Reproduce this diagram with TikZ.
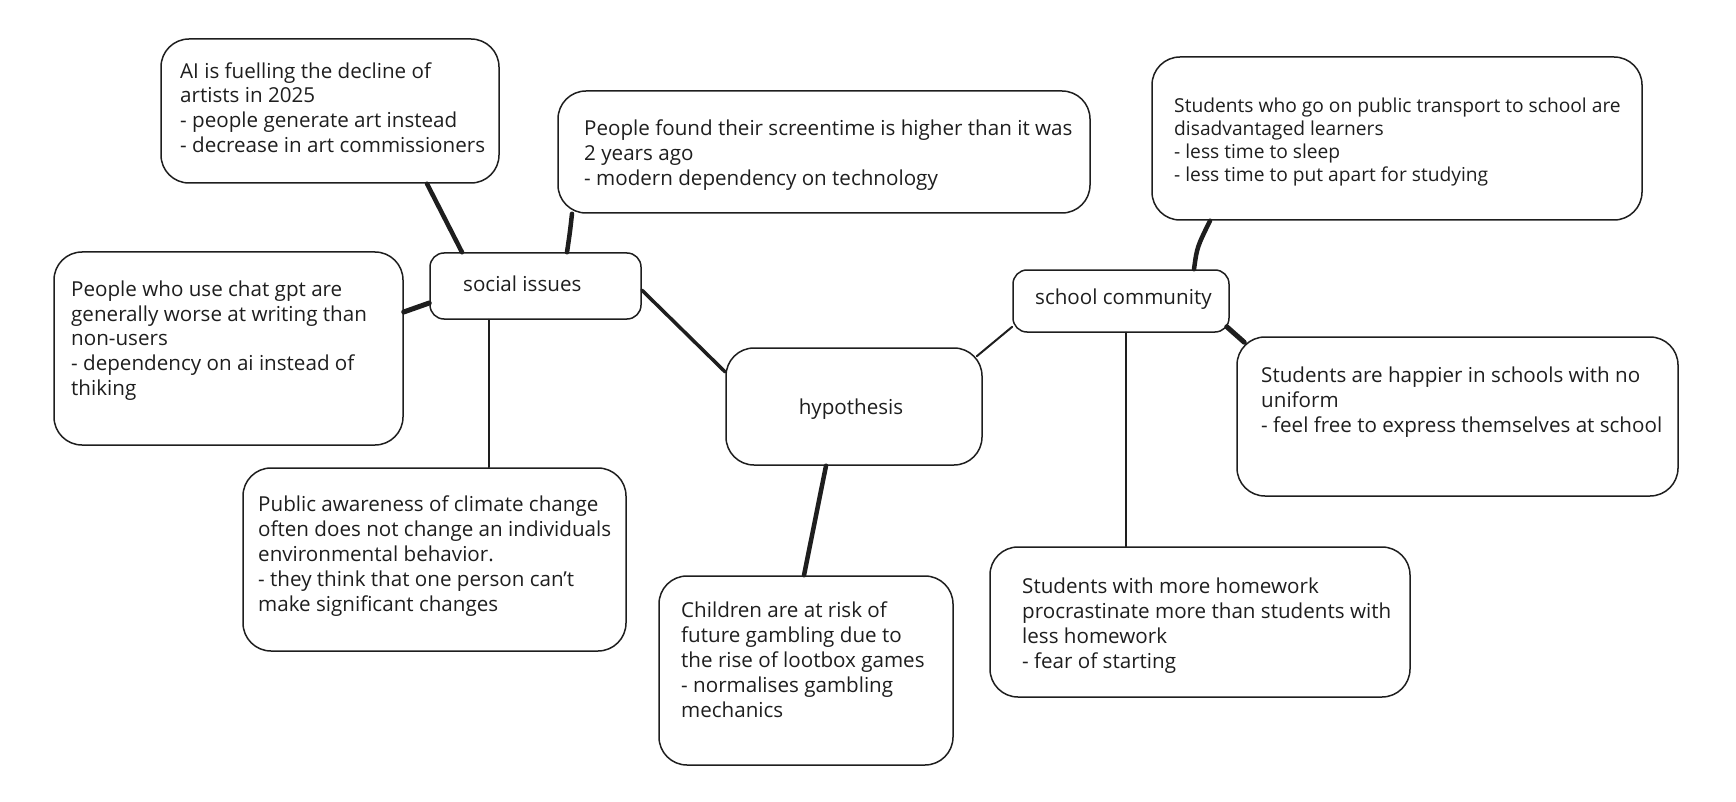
\documentclass[tikz,border=0pt]{standalone}
\usepackage{fontspec}
\setmainfont{Open Sans}
\usetikzlibrary{calc}
\definecolor{ink}{HTML}{1E1E1E}
\begin{document}
\begin{tikzpicture}[x=1pt,y=-1pt,
  box/.style={draw=ink, line width=1.5pt, rounded corners=28pt, inner sep=0pt, minimum width=#1},
  box/.default=10pt,
  txt/.style={inner sep=0pt, align=left, anchor=base west, font=\fontsize{20.6}{24.8}\selectfont, text=ink},
  stxt/.style={txt, font=\fontsize{19.2}{23}\selectfont},
  thinline/.style={draw=ink, line width=2pt, line cap=round},
  thickline/.style={draw=ink, line width=4.5pt, line cap=round}
]
\useasboundingbox (0,0) rectangle (1736,802);
% boxes
\node[box=338pt, minimum height=144pt] (ai) at (330,111) {};
\node[box=532pt, minimum height=122pt] (scr) at (824,152) {};
\node[box=490pt, minimum height=163pt] (trn) at (1397,138.5) {};
\node[box=211pt, minimum height=66pt, rounded corners=14pt] (soc) at (535.5,286) {};
\node[box=349pt, minimum height=193pt] (chat) at (228.5,348.5) {};
\node[box=383pt, minimum height=183pt] (clim) at (434.5,559.5) {};
\node[box=256pt, minimum height=117pt] (hyp) at (854,406.5) {};
\node[box=294pt, minimum height=189pt] (loot) at (806,670.5) {};
\node[box=216pt, minimum height=62pt, rounded corners=14pt] (sch) at (1121,301) {};
\node[box=441pt, minimum height=159pt] (uni) at (1457.5,416.5) {};
\node[box=420pt, minimum height=150pt] (hw) at (1200,622) {};
% texts (anchored at the baseline of the last line)
\node[txt] (aitxt) at (180,152.5) {AI is fuelling the decline of\\artists in 2025\\- people generate art instead\\- decrease in art commissioners};
\node[txt] (scrtxt) at (584,185.5) {People found their screentime is higher than it was\\2 years ago\\- modern dependency on technology};
\node[stxt] (trntxt) at (1174,182) {Students who go on public transport to school are\\disadvantaged learners\\- less time to sleep\\- less time to put apart for studying};
\node[txt] (soctxt) at (463,291) {social issues};
\node[txt] (chattxt) at (71,395.5) {People who use chat gpt are\\generally worse at writing than\\non-users\\- dependency on ai instead of\\thiking};
\node[txt] (climtxt) at (258,611) {Public awareness of climate change\\often does not change an individuals\\environmental behavior.\\- they think that one person can't\\make significant changes};
\node[txt, anchor=base] (hyptxt) at (851,414) {hypothesis};
\node[txt] (loottxt) at (681,717) {Children are at risk of\\future gambling due to\\the rise of lootbox games\\- normalises gambling\\mechanics};
\node[txt] (schtxt) at (1035,304) {school community};
\node[txt] (unitxt) at (1261,432) {Students are happier in schools with no\\uniform\\- feel free to express themselves at school};
\node[txt] (hwtxt) at (1022,668) {Students with more homework\\procrastinate more than students with\\less homework\\- fear of starting};
% connectors
\draw[thickline] ([xshift=97pt]ai.south) -- ([xshift=-73.5pt]soc.north);
\draw[thickline] ([xshift=-252pt]scr.south) .. controls ([xshift=-254pt,yshift=-18pt]scr.south) .. ([xshift=31.5pt]soc.north);
\draw[thickline, line width=5pt] ([yshift=36.5pt]chat.east) -- ([yshift=-17pt]soc.west);
\draw[thinline] ([xshift=-46.5pt]soc.south) -- ([xshift=54.5pt]clim.north);
\draw[thickline, line width=3.5pt] ([yshift=-4pt]soc.east) -- ([yshift=34.5pt]hyp.west);
\draw[thinline] ([xshift=-6pt,yshift=-9pt]hyp.north east) -- ([yshift=6pt]sch.south west);
\draw[thickline] ([xshift=-28pt]hyp.south) -- ([xshift=-2pt]loot.north);
\draw[thickline] ([xshift=73pt]sch.north) .. controls ([xshift=76pt,yshift=22pt]sch.north) .. ([xshift=-187pt]trn.south);
\draw[thickline, line width=5pt] ([xshift=-3pt,yshift=6pt]sch.south east) -- ([xshift=8pt,yshift=-6pt]uni.north west);
\draw[thinline, line width=2.5pt] ([xshift=5pt]sch.south) -- ([xshift=-74pt]hw.north);
\end{tikzpicture}
\end{document}
